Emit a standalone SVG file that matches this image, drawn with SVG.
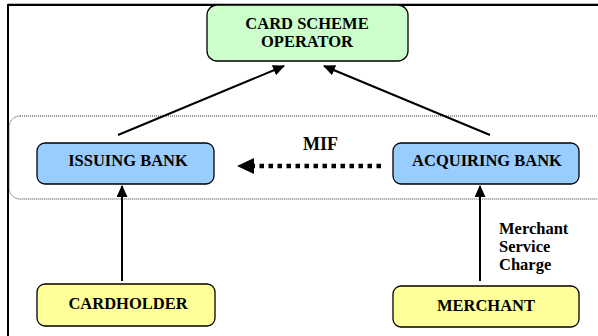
<svg xmlns="http://www.w3.org/2000/svg" width="598" height="336" viewBox="0 0 598 336">
<style>
.box{stroke:#000;stroke-width:1.3}
.t{font-family:"Liberation Serif","Times New Roman",serif;font-weight:bold;font-size:16.5px;fill:#000;text-anchor:middle}
.lbl{font-family:"Liberation Serif","Times New Roman",serif;font-weight:bold;font-size:16.5px;fill:#000}
.c{stroke:#000;stroke-width:2;fill:none}
</style>
<defs>
<marker id="ah" markerWidth="12" markerHeight="11" refX="11" refY="5.5" orient="auto" markerUnits="userSpaceOnUse">
<path d="M0,0 L12,5.5 L0,11 Z" fill="#000"/>
</marker>
</defs>
<rect width="598" height="336" fill="#fff"/>
<g id="frame">
<path d="M8,336 V5 H598" fill="none" stroke="#000" stroke-width="2"/>
<line x1="8" y1="3.5" x2="598" y2="3.5" stroke="#bbb" stroke-width="1"/>
</g>
<g id="group-banks">
<rect x="9" y="116" width="610" height="83" rx="11" fill="none" stroke="#333" stroke-width="1" stroke-dasharray="1,1"/>
</g>
<g id="connectors">
<line class="c" x1="118" y1="135" x2="284" y2="66" marker-end="url(#ah)"/>
<line class="c" x1="490" y1="135" x2="324" y2="66" marker-end="url(#ah)"/>
<line class="c" x1="122" y1="281" x2="122" y2="186" marker-end="url(#ah)"/>
<line class="c" x1="480" y1="281" x2="480" y2="186" marker-end="url(#ah)"/>
<line x1="381" y1="166" x2="252" y2="166" stroke="#000" stroke-width="4.5" stroke-dasharray="4.5,4.5"/>
<path d="M237,166 L254,158 L254,174 Z" fill="#000"/>
<text class="lbl" x="303" y="150" style="font-size:18px">MIF</text>
<text class="lbl" x="499" y="234">Merchant</text>
<text class="lbl" x="499" y="252">Service</text>
<text class="lbl" x="499" y="270">Charge</text>
</g>
<g id="card-scheme-operator">
<rect class="box" x="207" y="5" width="201" height="56" rx="10" fill="#ccffcc"/>
<text class="t" x="307" y="29">CARD SCHEME</text>
<text class="t" x="307" y="47">OPERATOR</text>
</g>
<g id="issuing-bank">
<rect class="box" x="37" y="143" width="177" height="41" rx="8" fill="#99ccff"/>
<text class="t" x="128" y="166">ISSUING BANK</text>
</g>
<g id="acquiring-bank">
<rect class="box" x="393" y="143" width="186" height="41" rx="8" fill="#99ccff"/>
<text class="t" x="487" y="166">ACQUIRING BANK</text>
</g>
<g id="cardholder">
<rect class="box" x="37" y="284" width="178" height="42" rx="8" fill="#ffff99"/>
<text class="t" x="128" y="309">CARDHOLDER</text>
</g>
<g id="merchant">
<rect class="box" x="393" y="286" width="186" height="41" rx="8" fill="#ffff99"/>
<text class="t" x="486" y="311">MERCHANT</text>
</g>
</svg>
